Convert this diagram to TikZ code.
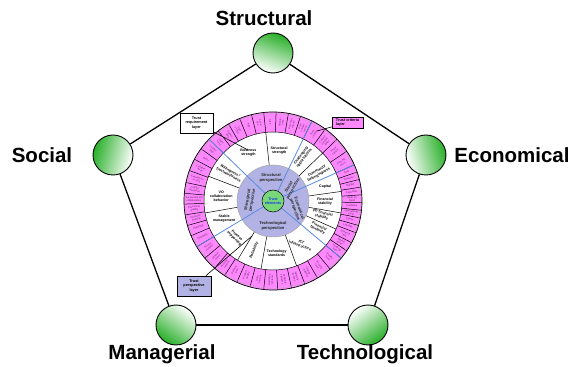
\documentclass[tikz,border=0pt]{standalone}
\usepackage{fontspec}
\setmainfont{Liberation Sans}
\definecolor{pinkc}{RGB}{255,136,255}
\definecolor{lavc}{RGB}{178,178,228}
\definecolor{centerg}{RGB}{120,215,120}
\definecolor{ballg}{RGB}{40,175,40}
\definecolor{bluel}{RGB}{90,140,225}
\definecolor{critc}{RGB}{105,35,105}
\definecolor{tetext}{RGB}{25,60,230}
\begin{document}
\begin{tikzpicture}[x=1pt,y=1pt,
  ball/.style={circle, draw=black, line width=0.9pt, minimum size=40pt, inner sep=0pt, top color=ballg, bottom color=white},
  biglabel/.style={font=\fontsize{20.5}{22}\selectfont\bfseries, inner sep=0pt},
  pentaedge/.style={line width=1.3pt},
  req/.style={font=\fontsize{3.6}{4.1}\selectfont\bfseries, align=center, inner sep=0pt},
  crit/.style={font=\fontsize{2.6}{2.9}\selectfont, text=critc, align=center, inner sep=0pt},
  persp/.style={font=\fontsize{4.1}{4.7}\selectfont\bfseries, align=center, inner sep=0pt, text=black!85},
  callout/.style={draw, line width=0.6pt, font=\fontsize{3.8}{4.4}\selectfont\bfseries, align=center, inner sep=0.5pt},
  cellline/.style={line width=0.5pt},
  blueline/.style={bluel, line width=0.8pt},
  leader/.style={line width=0.6pt}
]
\useasboundingbox (0,0) rectangle (574,367);

% pentagon balls and labels
\node[ball, shading angle=-20] (str) at (273,314) {};
\node[ball, shading angle=75] (soc) at (113,212) {};
\node[ball, shading angle=-75] (eco) at (426,212) {};
\node[ball, shading angle=144] (man) at (176,42) {};
\node[ball, shading angle=-143] (tec) at (368,42) {};

\node[biglabel] (lstr) at (264,349) {Structural};
\node[biglabel] (lsoc) at (42,212) {Social};
\node[biglabel] (leco) at (512,212) {Economical};
\node[biglabel] (lman) at (162,13) {Managerial};
\node[biglabel] (ltec) at (365,13) {Technological};

\draw[pentaedge] (str) -- (eco);
\draw[pentaedge] (eco) -- (tec);
\draw[pentaedge] (tec) -- (man);
\draw[pentaedge] (man) -- (soc);
\draw[pentaedge] (soc) -- (str);

% wheel
\begin{scope}[shift={(273,166)}]
  \fill[pinkc] (0,0) circle (89pt);
  \fill[white] (0,0) circle (69pt);
  \fill[lavc] (0,0) circle (36pt);

  % trust criteria cells
  \foreach \s/\e/\txt [count=\i] in {
    128/136/Legal\\form, 120/128/Owner-\\ship, 112/120/Size\\of firm, 104/112/Age, 96/104/Loca-\\tion,
    88/96/Size, 80/88/Unique-\\ness, 72/80/Personal\\repute, 64/72/Core\\compe-\\tence,
    54/64/Trust\\climate, 44/54/Culture\\compat-\\ibility, 34/44/Social\\capital, 24/34/Commit-\\ment,
    19/24/Cost, 14/19/Revenue, 9/14/Margin, 4/9/Cash flow, -1/4/Cash on\\hand, -6/-1/Portfolios,
    -11/-6/Operational\\costs, -16/-11/Equity, -21/-16/Liquidity, -28/-21/Solvency\\ratio,
    -34/-28/Market\\share, -40/-34/Funding\\level,
    -50/-40/Quality\\level, -60/-50/Security\\level, -69/-60/Interop-\\erability, -78/-69/Network\\access,
    -87/-78/Software\\systems, -96/-87/Hardware\\systems, -105/-96/Data\\formats, -114/-105/Product\\quality,
    -123/-114/Delivery\\time, -131/-123/Process\\control, -140/-131/Mainte-\\nance, -149/-140/Service\\support,
    203/211/Flexibility, 196/203/Planning, 189/196/Decision\\making, 182/189/Personnel\\quality,
    175/182/Successful VO\\collaboration, 168/175/Conflict\\resolution, 160/168/Experience\\in VOs,
    152/160/Collabor-\\ation, 144/152/Other, 136/144/Leader-\\ship}
  {
    \pgfmathsetmacro\m{(\s+\e)/2}
    \pgfmathsetmacro\rot{cos(\m)<0 ? \m+180 : \m}
    \draw[cellline] (\s:69pt) -- (\s:89pt);
    \node[crit, rotate=\rot] (c\i) at (\m:79pt) {\txt};
  }
  \draw[line width=0.7pt] (0,0) circle (89pt);
  \draw[gray!60, line width=0.3pt] (0,0) circle (87.3pt);
  \draw[line width=0.5pt] (0,0) circle (69pt);

  % trust requirement separators
  \foreach \a in {96,44,8,-10,-24,-70,-100,-121,190,159}
    \draw[cellline] (\a:36pt) -- (\a:69pt);
  \draw[gray!70, line width=0.5pt] (0,0) circle (36pt);

  % perspective separators
  \foreach \a in {136,64,24,-40,-149}
    \draw[blueline] (\a:11pt) -- (\a:89pt);

  % trust requirements
  \node[req] (r1) at (117:54pt) {Business\\strength};
  \node[req] (r2) at (83:51pt) {Structural\\strength};
  \node[req, rotate=52] (r3) at (56:53pt) {Challenging\\opportunities};
  \node[req, rotate=30] (r4) at (32:53pt) {Community\\belongingness};
  \node[req] (r5) at (15:54pt) {Capital};
  \node[req] (r6) at (-1:52pt) {Financial\\stability};
  \node[req, rotate=-15] (r7) at (-16:51pt) {VO financial\\stability};
  \node[req, rotate=-25] (r8) at (-31:53pt) {Financial\\flexibility};
  \node[req, rotate=-20] (r9) at (-57:51pt) {ICT\\infrastructure};
  \node[req] (r10) at (-86:52pt) {Technology\\standards};
  \node[req, rotate=68] (r11) at (-111:53pt) {Reliability};
  \node[req, rotate=-45] (r12) at (-136:52pt) {Process\\supporting};
  \node[req] (r13) at (200:52pt) {Stable\\management};
  \node[req] (r14) at (175:52pt) {VO\\collaboration\\behavior};
  \node[req, rotate=-28] (r15) at (147:52pt) {Willingness /\\Trustworthiness};

  % trust perspectives
  \node[persp] (ps) at (-2pt,23pt) {Structural\\perspective};
  \node[persp, rotate=60] (pso) at (18pt,13pt) {Social\\perspective};
  \node[persp, rotate=-70] (pe) at (24pt,-8pt) {Economical\\perspective};
  \node[persp] (pt) at (0pt,-25pt) {Technological\\perspective};
  \node[persp, rotate=80] (pm) at (-23pt,1pt) {Managerial\\perspective};

  % centre
  \node[circle, draw=black, line width=0.5pt, fill=centerg, minimum size=22pt, inner sep=0pt,
        font=\fontsize{3.8}{4.3}\selectfont\bfseries, text=tetext, align=center] (te) at (0,0) {Trust\\elements};
\end{scope}

% callouts
\node[callout, fill=white, minimum width=33pt, minimum height=20pt] (lreq) at (196.5,244) {Trust\\requirement\\layer};
\node[callout, fill=pinkc, minimum width=31pt, minimum height=11pt, align=left] (lcrit) at (347.5,244.5) {Trust criteria\\layer};
\node[callout, fill=lavc, minimum width=34pt, minimum height=20pt] (lper) at (194,81) {Trust\\perspective\\layer};

\coordinate (reqend) at (248,217);
\coordinate (critend) at (317,236);
\coordinate (perend) at (252,131);
\draw[leader] (lreq) -- (reqend);
\draw[leader] (lcrit) -- (critend);
\draw[leader] (lper) -- (perend);
\end{tikzpicture}
\end{document}
